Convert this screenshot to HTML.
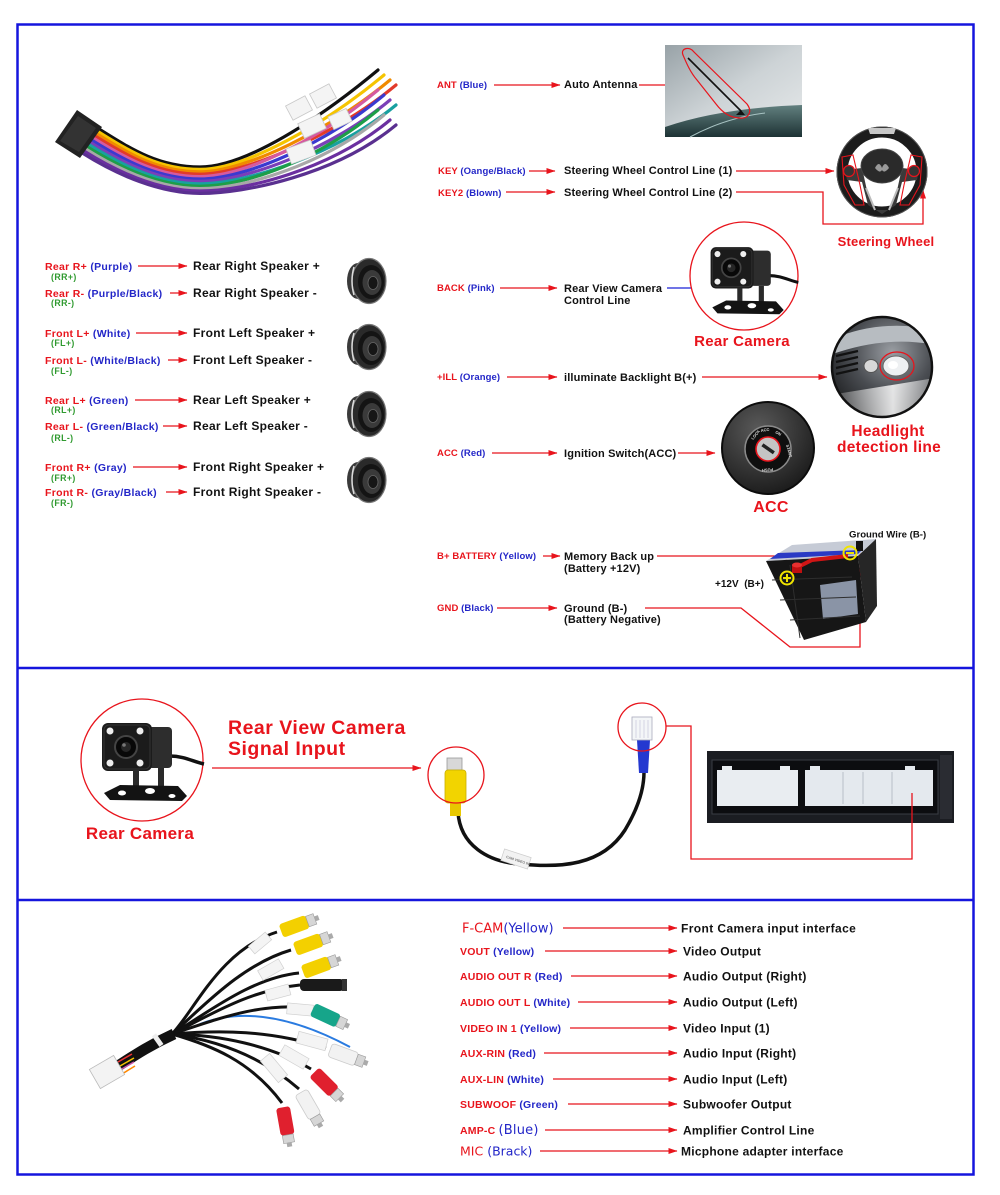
<!DOCTYPE html>
<html><head><meta charset="utf-8">
<style>
html,body{margin:0;padding:0;background:#fff;}
svg{display:block;}
text{font-family:"Liberation Sans",Arial,sans-serif;font-weight:bold;}
.r{fill:#e8141c}.b{fill:#2326c8}.g{fill:#2f9a2f}.k{fill:#111}
.ln{stroke:#e8141c;stroke-width:1.3;fill:none}
.dv{font-family:"DejaVu Sans",sans-serif;font-weight:normal;}
</style></head><body>
<svg width="1000" height="1195" viewBox="0 0 1000 1195" xmlns="http://www.w3.org/2000/svg">
<defs>
<marker id="ar" markerUnits="userSpaceOnUse" markerWidth="9" markerHeight="7" refX="8.5" refY="3.5" orient="auto"><path d="M0,0.5 L9,3.5 L0,6.5 z" fill="#e8141c"/></marker>
<marker id="ab" markerUnits="userSpaceOnUse" markerWidth="9" markerHeight="7" refX="8.5" refY="3.5" orient="auto"><path d="M0,0.5 L9,3.5 L0,6.5 z" fill="#1a22d8"/></marker>
<linearGradient id="gAnt" x1="0" y1="0" x2="1" y2="1"><stop offset="0" stop-color="#98a2a7"/><stop offset="0.5" stop-color="#cdd3d6"/><stop offset="1" stop-color="#e7eaeb"/></linearGradient>
<linearGradient id="gRoof" x1="0" y1="0" x2="0" y2="1"><stop offset="0" stop-color="#62807f"/><stop offset="1" stop-color="#1d3234"/></linearGradient>
<radialGradient id="gHead" cx="0.6" cy="0.35" r="0.8"><stop offset="0" stop-color="#9a9ea3"/><stop offset="0.5" stop-color="#4a4d52"/><stop offset="1" stop-color="#151617"/></radialGradient>
<radialGradient id="gAcc" cx="0.4" cy="0.3" r="0.8"><stop offset="0" stop-color="#5a5a5a"/><stop offset="1" stop-color="#151515"/></radialGradient>
<linearGradient id="gBeam" x1="0" y1="0" x2="1" y2="0"><stop offset="0" stop-color="#fff" stop-opacity="0.1"/><stop offset="0.6" stop-color="#fff" stop-opacity="0.85"/><stop offset="1" stop-color="#fff" stop-opacity="0.3"/></linearGradient>
<clipPath id="cHead"><circle cx="882" cy="367" r="50"/></clipPath>
<g id="spk">
  <ellipse cx="-8" cy="0" rx="11" ry="18" fill="#3a3a3a"/>
  <ellipse cx="-5" cy="0" rx="9" ry="17" fill="#9a9a9a"/>
  <ellipse cx="3" cy="0" rx="17" ry="22.5" fill="#2a2a2a" stroke="#777" stroke-width="1.2"/>
  <ellipse cx="5" cy="1" rx="13" ry="17" fill="#141414"/>
  <ellipse cx="6" cy="1.5" rx="9.5" ry="12.5" fill="#3a3a3a"/>
  <ellipse cx="7" cy="2" rx="5" ry="6.5" fill="#161616" stroke="#666" stroke-width="0.8"/>
  <path d="M-12,-14 Q-16,0 -12,14" stroke="#ddd" stroke-width="1.5" fill="none"/>
</g>
<g id="cam">
  <path d="M28,-4 C42,-4 52,2 62,4" stroke="#111" stroke-width="3.5" fill="none"/>
  <rect x="6" y="-33" width="24" height="41" rx="4" fill="#2d2d2d"/>
  <rect x="-40" y="-37" width="50" height="48" rx="6" fill="#1b1b1b"/>
  <rect x="-38" y="-35" width="46" height="44" rx="5" fill="none" stroke="#333" stroke-width="1"/>
  <circle cx="-16" cy="-13" r="11" fill="#080808" stroke="#444" stroke-width="2"/>
  <circle cx="-16" cy="-13" r="5" fill="#262626"/>
  <circle cx="-18" cy="-15" r="1.8" fill="#777"/>
  <circle cx="-32" cy="-29" r="3.5" fill="#eee"/>
  <circle cx="-2" cy="-29" r="3.5" fill="#eee"/>
  <circle cx="-32" cy="3" r="3.5" fill="#eee"/>
  <circle cx="-2" cy="3" r="3.5" fill="#eee"/>
  <rect x="-9" y="10" width="6" height="18" fill="#2a2a2a"/>
  <rect x="16" y="8" width="6" height="20" fill="#2a2a2a"/>
  <path d="M-38,33 L-22,25 L36,26 L45,36 L40,41 L-32,40 Z" fill="#131313"/>
  <ellipse cx="-20" cy="33" rx="4" ry="2.5" fill="#fff"/>
  <ellipse cx="8" cy="31" rx="5" ry="3" fill="#fff"/>
  <ellipse cx="30" cy="36" rx="3.5" ry="2" fill="#fff"/>
</g>
</defs>

<rect width="1000" height="1195" fill="#fff"/>

<!-- ============ HARNESS TOP-LEFT ============ -->
<g fill="none" stroke-width="3.2" stroke-linecap="round">
<path d="M99,129 C134,151 160,167 200,167 C245,167 318,120 378,70" stroke="#111"/>
<path d="M97.5,131.2 C132.5,153.2 160,169.4 200,169.4 C245,169.4 324,125 384,75" stroke="#f5c400"/>
<path d="M96,133.4 C131,155.4 160,171.8 200,171.8 C245,171.8 330,130 390,80" stroke="#f08a00"/>
<path d="M94.5,135.6 C129.5,157.6 160,174.2 200,174.2 C245,174.2 336,135 396,85" stroke="#e23a2a"/>
<path d="M93,137.8 C128,159.8 160,176.6 200,176.6 C245,176.6 318,140 378,90" stroke="#d55aa0"/>
<path d="M91.5,140 C126.5,162 160,179 200,179 C245,179 324,145 384,95" stroke="#3a3ad0"/>
<path d="M90,142.2 C125,164.2 160,181.4 200,181.4 C245,181.4 330,150 390,100" stroke="#7a3fb8"/>
<path d="M88.5,144.4 C123.5,166.4 160,183.8 200,183.8 C245,183.8 336,155 396,105" stroke="#18a0a0"/>
<path d="M87,146.6 C122,168.6 160,186.2 200,186.2 C245,186.2 318,160 378,110" stroke="#1e9e48"/>
<path d="M85.5,148.8 C120.5,170.8 160,188.6 200,188.6 C245,188.6 324,165 384,115" stroke="#a8a8a8"/>
<path d="M84,151 C119,173 160,191 200,191 C245,191 330,170 390,120" stroke="#6b2fa0"/>
<path d="M82.5,153.2 C117.5,175.2 160,193.4 200,193.4 C245,193.4 336,175 396,125" stroke="#5a3090"/>
</g>
<polygon points="55,142 77,110 102,127 80,158" fill="#222"/>
<polygon points="60,141 78,116 96,128 79,152" fill="#333"/>
<g fill="#f4f4f4" stroke="#c8c8c8" stroke-width="0.8">
<rect x="288" y="100" width="22" height="16" transform="rotate(-28 299 108)"/>
<rect x="312" y="88" width="22" height="16" transform="rotate(-28 323 96)"/>
<rect x="300" y="118" width="24" height="16" transform="rotate(-25 312 126)"/>
<rect x="330" y="112" width="20" height="14" transform="rotate(-25 340 119)"/>
<rect x="288" y="144" width="26" height="16" transform="rotate(-20 301 152)"/>
</g>

<!-- ============ SPEAKERS ============ -->
<g font-size="10.5" letter-spacing="0.3">
<text x="45" y="270"><tspan class="r">Rear R+ </tspan><tspan class="b">(Purple)</tspan></text>
<text x="45" y="297"><tspan class="r">Rear R- </tspan><tspan class="b">(Purple/Black)</tspan></text>
<text x="45" y="337"><tspan class="r">Front L+ </tspan><tspan class="b">(White)</tspan></text>
<text x="45" y="364"><tspan class="r">Front L- </tspan><tspan class="b">(White/Black)</tspan></text>
<text x="45" y="404"><tspan class="r">Rear L+ </tspan><tspan class="b">(Green)</tspan></text>
<text x="45" y="430"><tspan class="r">Rear L- </tspan><tspan class="b">(Green/Black)</tspan></text>
<text x="45" y="471"><tspan class="r">Front R+ </tspan><tspan class="b">(Gray)</tspan></text>
<text x="45" y="496"><tspan class="r">Front R- </tspan><tspan class="b">(Gray/Black)</tspan></text>
</g>
<g font-size="8.8" letter-spacing="0.4" class="g">
<text x="51" y="280">(RR+)</text>
<text x="51" y="306">(RR-)</text>
<text x="51" y="346">(FL+)</text>
<text x="51" y="374">(FL-)</text>
<text x="51" y="413">(RL+)</text>
<text x="51" y="441">(RL-)</text>
<text x="51" y="481">(FR+)</text>
<text x="51" y="506">(FR-)</text>
</g>
<g class="ln" marker-end="url(#ar)">
<line x1="138" y1="266" x2="187" y2="266"/>
<line x1="170" y1="293" x2="187" y2="293"/>
<line x1="136" y1="333" x2="187" y2="333"/>
<line x1="168" y1="360" x2="187" y2="360"/>
<line x1="135" y1="400" x2="187" y2="400"/>
<line x1="163" y1="426" x2="187" y2="426"/>
<line x1="133" y1="467" x2="187" y2="467"/>
<line x1="166" y1="492" x2="187" y2="492"/>
</g>
<g font-size="12" letter-spacing="0.3" class="k">
<text x="193" y="270">Rear Right Speaker +</text>
<text x="193" y="297">Rear Right Speaker -</text>
<text x="193" y="337">Front Left Speaker +</text>
<text x="193" y="364">Front Left Speaker -</text>
<text x="193" y="404">Rear Left Speaker +</text>
<text x="193" y="430">Rear Left Speaker -</text>
<text x="193" y="471">Front Right Speaker +</text>
<text x="193" y="496">Front Right Speaker -</text>
</g>
<use href="#spk" x="366" y="281"/>
<use href="#spk" x="366" y="347"/>
<use href="#spk" x="366" y="414"/>
<use href="#spk" x="366" y="480"/>

<!-- ============ TOP RIGHT LABELS ============ -->
<g font-size="9.5" letter-spacing="0.1">
<text x="437" y="88"><tspan class="r">ANT </tspan><tspan class="b">(Blue)</tspan></text>
<text x="438" y="174"><tspan class="r">KEY </tspan><tspan class="b">(Oange/Black)</tspan></text>
<text x="438" y="196"><tspan class="r">KEY2 </tspan><tspan class="b">(Blown)</tspan></text>
<text x="437" y="291"><tspan class="r">BACK </tspan><tspan class="b">(Pink)</tspan></text>
<text x="437" y="380"><tspan class="r">+ILL </tspan><tspan class="b">(Orange)</tspan></text>
<text x="437" y="456"><tspan class="r">ACC </tspan><tspan class="b">(Red)</tspan></text>
<text x="437" y="559"><tspan class="r">B+ BATTERY </tspan><tspan class="b">(Yellow)</tspan></text>
<text x="437" y="611"><tspan class="r">GND </tspan><tspan class="b">(Black)</tspan></text>
</g>
<g class="ln" marker-end="url(#ar)">
<line x1="494" y1="85" x2="560" y2="85"/>
<line x1="639" y1="85" x2="702" y2="85"/>
<line x1="529" y1="171" x2="555" y2="171"/>
<line x1="736" y1="171" x2="834" y2="171"/>
<line x1="506" y1="192" x2="555" y2="192"/>
<polyline points="736,192 823,192 823,224 923,224 923,190"/>
<line x1="500" y1="288" x2="557" y2="288"/>
<line x1="507" y1="377" x2="557" y2="377"/>
<line x1="702" y1="377" x2="827" y2="377"/>
<line x1="492" y1="453" x2="557" y2="453"/>
<line x1="678" y1="453" x2="715" y2="453"/>
<line x1="543" y1="556" x2="560" y2="556"/>
<line x1="497" y1="608" x2="557" y2="608"/>
<polyline points="645,608 741,608 790,647 860,647 860,550"/>
</g>
<polyline class="ln" points="657,556 781,556 796,567"/>
<line x1="667" y1="288" x2="702" y2="288" stroke="#1a22d8" stroke-width="1.3" marker-end="url(#ab)"/>
<g font-size="11" class="k" letter-spacing="0.15">
<text x="564" y="88">Auto Antenna</text>
<text x="564" y="174">Steering Wheel Control Line (1)</text>
<text x="564" y="196">Steering Wheel Control Line (2)</text>
<text x="564" y="292">Rear View Camera</text>
<text x="564" y="304">Control Line</text>
<text x="564" y="381">illuminate Backlight B(+)</text>
<text x="564" y="457">Ignition Switch(ACC)</text>
<text x="564" y="560">Memory Back up</text>
<text x="564" y="572">(Battery +12V)</text>
<text x="564" y="612">Ground (B-)</text>
<text x="564" y="623">(Battery Negative)</text>
</g>
<text x="849" y="537.5" font-size="9.6" class="k">Ground Wire (B-)</text>
<text x="715" y="587" font-size="10" class="k" xml:space="preserve">+12V  (B+)</text>

<!-- antenna image -->
<rect x="665" y="45" width="137" height="92" fill="url(#gAnt)"/>
<path d="M665,127 Q720,108 802,105 L802,137 L665,137 Z" fill="url(#gRoof)"/>
<path d="M690,137 Q725,118 765,113" stroke="#a9c4c4" stroke-width="1" fill="none"/>
<line x1="688" y1="58" x2="741" y2="111" stroke="#111" stroke-width="1.6"/>
<path d="M741,110 l-5,5 l9,0 z" fill="#111"/>
<path d="M683,55 C680,48 690,46 694,52 L747,104 C753,112 748,119 740,118 C730,118 722,112 716,104 L697,80 C690,72 686,62 683,55 Z" fill="none" stroke="#e8141c" stroke-width="1.2"/>

<!-- steering wheel -->
<g>
<circle cx="882" cy="172" r="40" fill="none" stroke="#1c1c1c" stroke-width="11"/>
<circle cx="882" cy="172" r="45" fill="none" stroke="#555" stroke-width="1"/>
<path d="M868,128 L896,128 L894,134 L870,134 Z" fill="#c8c8c8"/>
<path d="M845,170 L862,168 L868,195 L875,210 L889,210 L896,195 L902,168 L919,170 L917,180 L902,182 L896,205 L882,214 L868,205 L862,182 L847,180 Z" fill="#3a3a3a"/>
<path d="M866,188 L875,210 M898,188 L889,210" stroke="#bbb" stroke-width="2"/>
<ellipse cx="882" cy="166" rx="21" ry="17" fill="#2a2a2a" stroke="#444"/>
<path d="M875,168 q4,-8 7,0 q3,-8 7,0 q-5,6 -7,2 q-2,4 -7,-2z" fill="#999"/>
<circle cx="849" cy="171" r="5.5" fill="#333" stroke="#e8141c" stroke-width="1.2"/>
<circle cx="914" cy="171" r="5.5" fill="#333" stroke="#e8141c" stroke-width="1.2"/>
<path d="M842,157 L853,155 L860,185 L864,205 L855,205 L844,185 Z" fill="none" stroke="#e8141c" stroke-width="1.1"/>
<path d="M922,157 L911,155 L904,185 L900,205 L909,205 L920,185 Z" fill="none" stroke="#e8141c" stroke-width="1.1"/>
</g>
<text x="886" y="246" font-size="13" text-anchor="middle" class="r" letter-spacing="0.2">Steering Wheel</text>

<!-- rear camera top -->
<circle cx="744" cy="276" r="54" fill="#fff" stroke="#e8141c" stroke-width="1.3"/>
<use href="#cam" transform="translate(745,279) scale(0.86)"/>
<text x="742" y="346" font-size="15" text-anchor="middle" class="r" letter-spacing="0.3">Rear Camera</text>

<!-- headlight -->
<circle cx="882" cy="367" r="50" fill="url(#gHead)"/>
<g clip-path="url(#cHead)">
<path d="M830,340 Q880,318 935,330 L935,345 Q885,335 830,355 Z" fill="#b7bcc1"/>
<g stroke="#111" stroke-width="2.2"><line x1="836" y1="356" x2="858" y2="351"/><line x1="836" y1="362" x2="858" y2="357"/><line x1="836" y1="368" x2="858" y2="363"/><line x1="836" y1="374" x2="858" y2="369"/></g>
<path d="M830,395 L935,378 L935,420 L830,420 Z" fill="url(#gBeam)"/>
<ellipse cx="871" cy="366" rx="7" ry="6.5" fill="#d8d8d8" stroke="#555"/>
<ellipse cx="896" cy="366" rx="13" ry="10" fill="#eef0f2" stroke="#666"/>
<ellipse cx="893" cy="365" rx="5" ry="4" fill="#fff"/>
</g>
<ellipse cx="897" cy="366" rx="17" ry="14" fill="none" stroke="#e8141c" stroke-width="1.3"/>
<circle cx="882" cy="367" r="50" fill="none" stroke="#111" stroke-width="2.5"/>
<text x="888" y="436" font-size="15.5" text-anchor="middle" class="r" letter-spacing="0.3">Headlight</text>
<text x="889" y="452" font-size="15.5" text-anchor="middle" class="r" letter-spacing="0.3">detection line</text>

<!-- ACC ignition -->
<circle cx="768" cy="448" r="46" fill="url(#gAcc)" stroke="#0c0c0c" stroke-width="2"/>
<circle cx="768" cy="449" r="23" fill="#0f0f0f" stroke="#8a8a8a" stroke-width="1.5"/>
<circle cx="768" cy="449" r="12" fill="#c4c4c4" stroke="#e8141c" stroke-width="1.6"/>
<rect x="761" y="447" width="14" height="3.5" fill="#222" transform="rotate(35 768 449)"/>
<g font-size="4" fill="#ddd" font-weight="normal">
<text x="753" y="440" transform="rotate(-50 753 440)">LOCK</text>
<text x="761" y="432" transform="rotate(-10 761 432)">ACC</text>
<text x="775" y="433" transform="rotate(30 775 433)">ON</text>
<text x="786" y="445" transform="rotate(75 786 445)">START</text>
<text x="773" y="468" transform="rotate(175 773 468)">PUSH</text>
</g>
<text x="771" y="512" font-size="16" text-anchor="middle" class="r" letter-spacing="0.3">ACC</text>

<!-- battery -->
<polygon points="766,561 792,545 876,539 858,556" fill="#c6cbd6"/>
<polygon points="770,559 858,554 862,550 778,553" fill="#2a3ac4"/>
<polygon points="766,561 858,556 866,622 804,640" fill="#161616"/>
<polygon points="858,556 876,539 877,606 866,622" fill="#262626"/>
<polygon points="820,585 856,580 858,614 823,619" fill="#8a94a6"/>
<g stroke="#2e2e2e" stroke-width="1"><line x1="772" y1="580" x2="852" y2="577"/><line x1="780" y1="600" x2="856" y2="597"/><line x1="790" y1="620" x2="860" y2="616"/><line x1="790" y1="565" x2="800" y2="638"/></g>
<path d="M800,566 L812,560 L848,556" stroke="#d01515" stroke-width="4" fill="none"/>
<rect x="792" y="565" width="10" height="8" fill="#c01010"/>
<ellipse cx="797" cy="565" rx="5" ry="2.5" fill="#e83030"/>
<rect x="856" y="541" width="7" height="10" fill="#111"/>
<circle cx="787" cy="578" r="6.5" fill="none" stroke="#f0e400" stroke-width="2"/>
<path d="M783,578 h8 M787,574 v8" stroke="#f0e400" stroke-width="2"/>
<circle cx="850" cy="553" r="6.5" fill="none" stroke="#f0e400" stroke-width="2"/>
<path d="M846,553 h8" stroke="#f0e400" stroke-width="2"/>

<!-- ============ MIDDLE SECTION ============ -->
<circle cx="142" cy="760" r="61" fill="#fff" stroke="#e8141c" stroke-width="1.3"/>
<use href="#cam" transform="translate(142,760)"/>
<text x="140" y="839" font-size="17" text-anchor="middle" class="r" letter-spacing="0.3">Rear Camera</text>
<text x="228" y="734" font-size="19.5" class="r" letter-spacing="0.5">Rear View Camera</text>
<text x="228" y="755" font-size="19.5" class="r" letter-spacing="0.5">Signal Input</text>
<line class="ln" x1="212" y1="768" x2="421" y2="768" marker-end="url(#ar)"/>

<path d="M458,812 C460,845 488,862 520,864 C560,868 602,866 625,830 C640,805 644,785 644,772" stroke="#111" stroke-width="3.5" fill="none"/>
<rect x="502" y="853" width="28" height="12" fill="#f2f2f2" stroke="#ccc" stroke-width="0.7" transform="rotate(18 516 859)"/>
<text x="506" y="861" font-size="3.5" fill="#777" font-weight="normal" transform="rotate(18 516 859)">CAM VIDEO IN</text>
<rect x="447" y="758" width="15" height="12" fill="#d8d8d8" stroke="#999" stroke-width="0.8"/>
<rect x="445" y="770" width="21" height="33" rx="3" fill="#f2d400" stroke="#c9ae00" stroke-width="0.8"/>
<rect x="450" y="803" width="11" height="13" fill="#e8c800"/>
<circle cx="456" cy="775" r="28" fill="none" stroke="#e8141c" stroke-width="1.3"/>

<path d="M637,740 L639,773 L648,773 L650,740 Z" fill="#2438d0"/>
<rect x="632" y="717" width="20" height="23" fill="#f4f6f8" stroke="#aab" stroke-width="0.8"/>
<g stroke="#ccd" stroke-width="0.8"><line x1="636" y1="720" x2="636" y2="738"/><line x1="640" y1="720" x2="640" y2="738"/><line x1="644" y1="720" x2="644" y2="738"/><line x1="648" y1="720" x2="648" y2="738"/></g>
<circle cx="642" cy="727" r="24" fill="none" stroke="#e8141c" stroke-width="1.3"/>

<rect x="707" y="751" width="247" height="72" fill="#1b1d22"/>
<rect x="712" y="760" width="226" height="54" fill="#0c0d10" stroke="#3a3d44" stroke-width="1"/>
<rect x="940" y="755" width="12" height="64" fill="#2a2c32"/>
<rect x="717" y="770" width="81" height="36" fill="#e9edf1"/>
<rect x="722" y="766" width="10" height="5" fill="#e9edf1"/><rect x="780" y="766" width="10" height="5" fill="#e9edf1"/>
<rect x="805" y="770" width="128" height="36" fill="#e4e9ee"/>
<rect x="810" y="766" width="10" height="5" fill="#e4e9ee"/><rect x="905" y="766" width="10" height="5" fill="#e4e9ee"/>
<g stroke="#b9c0c8" stroke-width="1"><line x1="843" y1="772" x2="843" y2="804"/><line x1="863" y1="772" x2="863" y2="804"/><line x1="892" y1="772" x2="892" y2="804"/></g>
<polyline class="ln" points="666,726 691,726 691,859 912,859 912,793"/>

<!-- ============ BOTTOM SECTION ============ -->
<!-- cable -->
<g>
<path d="M200,1024 Q262,1000 350,1047" stroke="#2a7be0" stroke-width="2" fill="none"/>
<g stroke="#111" stroke-width="3" fill="none">
<path d="M172,1034 C195,1010 220,950 277,932"/>
<path d="M172,1034 C200,1010 240,965 291,950"/>
<path d="M172,1034 C205,1015 250,978 299,973"/>
<path d="M172,1034 C210,1015 250,990 300,985"/>
<path d="M172,1034 C215,1020 260,1002 309,1008"/>
<path d="M172,1034 C220,1030 270,1030 326,1048"/>
<path d="M172,1034 C220,1035 270,1045 311,1069"/>
<path d="M172,1034 C215,1040 260,1055 299,1089"/>
<path d="M172,1034 C210,1045 250,1060 282,1103"/>
</g>
<path d="M118,1066 C135,1055 150,1045 174,1034" stroke="#111" stroke-width="11" fill="none"/>
<g stroke-width="1.5" fill="none"><path d="M118,1062 L132,1054" stroke="#e33"/><path d="M120,1066 L134,1058" stroke="#f5c400"/><path d="M120,1070 L134,1062" stroke="#c5a"/><path d="M122,1074 L135,1066" stroke="#f80"/></g>
<rect x="155" y="1034" width="5" height="13" fill="#eee" transform="rotate(-35 157 1040)"/>
<rect x="93" y="1061" width="28" height="22" fill="#f3f3f3" stroke="#bbb" stroke-width="0.8" transform="rotate(-30 107 1072)"/>
<g fill="#f4f4f4" stroke="#d0d0d0" stroke-width="0.7">
<rect x="249" y="938" width="22" height="10" transform="rotate(-40 260 943)"/>
<rect x="259" y="964" width="24" height="11" transform="rotate(-30 271 970)"/>
<rect x="266" y="987" width="24" height="11" transform="rotate(-15 278 993)"/>
<rect x="287" y="1004" width="26" height="11" transform="rotate(5 300 1010)"/>
<rect x="297" y="1035" width="30" height="12" transform="rotate(15 312 1041)"/>
<rect x="280" y="1051" width="28" height="12" transform="rotate(30 294 1057)"/>
<rect x="260" y="1062" width="28" height="12" transform="rotate(50 274 1068)"/>
</g>
<!-- connectors -->
<g transform="translate(298,925) rotate(-20)"><rect x="-18" y="-7" width="28" height="14" rx="3" fill="#f3d000"/><rect x="10" y="-5.5" width="8" height="11" fill="#d6d6d6" stroke="#999" stroke-width="0.6"/><rect x="18" y="-2.5" width="4" height="5" fill="#aaa"/></g>
<g transform="translate(312,943) rotate(-20)"><rect x="-18" y="-7" width="28" height="14" rx="3" fill="#f3d000"/><rect x="10" y="-5.5" width="8" height="11" fill="#d6d6d6" stroke="#999" stroke-width="0.6"/><rect x="18" y="-2.5" width="4" height="5" fill="#aaa"/></g>
<g transform="translate(320,966) rotate(-20)"><rect x="-18" y="-7" width="28" height="14" rx="3" fill="#f3d000"/><rect x="10" y="-5.5" width="8" height="11" fill="#d6d6d6" stroke="#999" stroke-width="0.6"/><rect x="18" y="-2.5" width="4" height="5" fill="#aaa"/></g>
<g transform="translate(322,985)"><rect x="-22" y="-6" width="44" height="12" rx="4" fill="#1a1a1a"/><rect x="20" y="-6" width="5" height="12" fill="#333"/></g>
<g transform="translate(329,1017) rotate(25)"><rect x="-18" y="-7" width="28" height="14" rx="3" fill="#16a58a"/><rect x="10" y="-5.5" width="8" height="11" fill="#d6d6d6" stroke="#999" stroke-width="0.6"/><rect x="18" y="-2.5" width="4" height="5" fill="#aaa"/></g>
<g transform="translate(347,1056) rotate(20)"><rect x="-18" y="-7" width="28" height="14" rx="3" fill="#f2f2f2" stroke="#ccc" stroke-width="0.8"/><rect x="10" y="-5.5" width="8" height="11" fill="#d6d6d6" stroke="#999" stroke-width="0.6"/><rect x="18" y="-2.5" width="4" height="5" fill="#aaa"/></g>
<g transform="translate(327,1085) rotate(45)"><rect x="-18" y="-7" width="28" height="14" rx="3" fill="#e0202e"/><rect x="10" y="-5.5" width="8" height="11" fill="#d6d6d6" stroke="#999" stroke-width="0.6"/><rect x="18" y="-2.5" width="4" height="5" fill="#aaa"/></g>
<g transform="translate(310,1108) rotate(60)"><rect x="-18" y="-7" width="28" height="14" rx="3" fill="#f2f2f2" stroke="#ccc" stroke-width="0.8"/><rect x="10" y="-5.5" width="8" height="11" fill="#d6d6d6" stroke="#999" stroke-width="0.6"/><rect x="18" y="-2.5" width="4" height="5" fill="#aaa"/></g>
<g transform="translate(286,1125) rotate(80)"><rect x="-18" y="-7" width="28" height="14" rx="3" fill="#e0202e"/><rect x="10" y="-5.5" width="8" height="11" fill="#d6d6d6" stroke="#999" stroke-width="0.6"/><rect x="18" y="-2.5" width="4" height="5" fill="#aaa"/></g>
</g>

<!-- bottom labels -->
<text x="462" y="932.5" font-size="13" class="dv"><tspan class="r">F-CAM</tspan><tspan class="b">(Yellow)</tspan></text>
<g font-size="10.5" letter-spacing="0.2">
<text x="460" y="955"><tspan class="r">VOUT </tspan><tspan class="b">(Yellow)</tspan></text>
<text x="460" y="980"><tspan class="r">AUDIO OUT R </tspan><tspan class="b">(Red)</tspan></text>
<text x="460" y="1006"><tspan class="r">AUDIO OUT L </tspan><tspan class="b">(White)</tspan></text>
<text x="460" y="1032"><tspan class="r">VIDEO IN 1 </tspan><tspan class="b">(Yellow)</tspan></text>
<text x="460" y="1057"><tspan class="r">AUX-RIN </tspan><tspan class="b">(Red)</tspan></text>
<text x="460" y="1083"><tspan class="r">AUX-LIN </tspan><tspan class="b">(White)</tspan></text>
<text x="460" y="1108"><tspan class="r">SUBWOOF </tspan><tspan class="b">(Green)</tspan></text>
<text x="460" y="1134"><tspan class="r">AMP-C </tspan><tspan class="b dv" font-size="13">(Blue)</tspan></text>
</g>
<text x="460" y="1155.5" font-size="12.5" class="dv"><tspan class="r">MIC </tspan><tspan class="b">(Brack)</tspan></text>
<g class="ln" marker-end="url(#ar)">
<line x1="563" y1="928" x2="677" y2="928"/>
<line x1="545" y1="951" x2="677" y2="951"/>
<line x1="571" y1="976" x2="677" y2="976"/>
<line x1="578" y1="1002" x2="677" y2="1002"/>
<line x1="570" y1="1028" x2="677" y2="1028"/>
<line x1="544" y1="1053" x2="677" y2="1053"/>
<line x1="553" y1="1079" x2="677" y2="1079"/>
<line x1="568" y1="1104" x2="677" y2="1104"/>
<line x1="545" y1="1130" x2="677" y2="1130"/>
<line x1="540" y1="1151" x2="677" y2="1151"/>
</g>
<g font-size="12" class="k" letter-spacing="0.25">
<text x="681" y="932.5" letter-spacing="0.4">Front Camera input interface</text>
<text x="683" y="955.5">Video Output</text>
<text x="683" y="980.5">Audio Output (Right)</text>
<text x="683" y="1006.5">Audio Output (Left)</text>
<text x="683" y="1032.5">Video Input (1)</text>
<text x="683" y="1057.5">Audio Input (Right)</text>
<text x="683" y="1083.5">Audio Input (Left)</text>
<text x="683" y="1108.5">Subwoofer Output</text>
<text x="683" y="1134.5">Amplifier Control Line</text>
<text x="681" y="1155.5">Micphone adapter interface</text>
</g>

<!-- ============ FRAME ============ -->
<rect x="17.5" y="24.5" width="956" height="1150" fill="none" stroke="#1515dd" stroke-width="2.5"/>
<line x1="17" y1="668" x2="974" y2="668" stroke="#1515dd" stroke-width="2.5"/>
<line x1="17" y1="900" x2="974" y2="900" stroke="#1515dd" stroke-width="2.5"/>
</svg>
</body></html>
